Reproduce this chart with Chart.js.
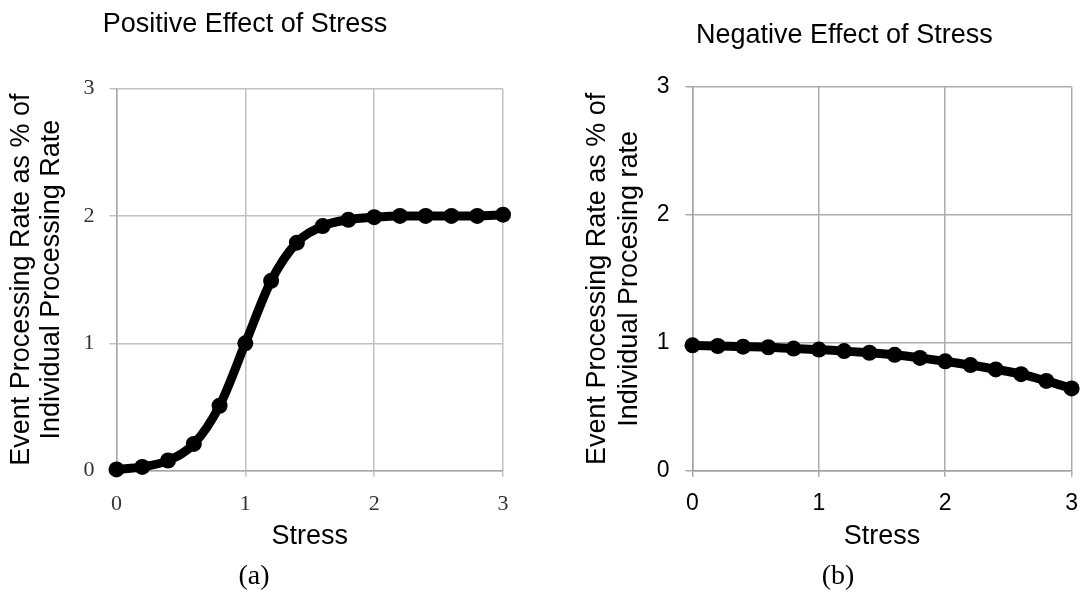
<!DOCTYPE html>
<html>
<head>
<meta charset="utf-8">
<script src="https://cdn.jsdelivr.net/npm/chart.js@4.4.1/dist/chart.umd.min.js"></script>
<style>
  html, body { margin: 0; padding: 0; background: #ffffff; }
  #wrap { position: relative; width: 1091px; height: 592px; overflow: hidden; }
  canvas { position: absolute; top: 0; }
  #cPos { left: 0; }
  #cNeg { left: 560px; }
</style>
</head>
<body>
<div id="wrap">
  <canvas id="cPos" width="560" height="592"></canvas>
  <canvas id="cNeg" width="531" height="592"></canvas>
</div>
<script>
// Stress levels sampled along the x axis
const stress = [0, 0.2, 0.4, 0.6, 0.8, 1.0, 1.2, 1.4, 1.6, 1.8, 2.0, 2.2, 2.4, 2.6, 2.8, 3.0];

// Event processing rate (relative to individual rate) under each stress level
const positiveRate = [0.01, 0.03, 0.08, 0.21, 0.51, 1.00, 1.49, 1.79, 1.92, 1.97, 1.99, 2.00, 2.00, 2.00, 2.00, 2.01];
const negativeRate = [0.98, 0.975, 0.97, 0.965, 0.955, 0.947, 0.935, 0.922, 0.906, 0.882, 0.855, 0.826, 0.792, 0.755, 0.702, 0.643];

// Axis ticks and labels
const xTickValues = [0, 1, 2, 3];
const yTickValues = [0, 1, 2, 3];
const xAxisTitle = 'Stress';
const yTitlePositive = ['Event Processing Rate as % of', 'Individual Processing Rate'];
const yTitleNegative = ['Event Processing Rate as % of', 'Individual Procesing rate'];
const panelTitles = ['Positive Effect of Stress', 'Negative Effect of Stress'];
const panelCaptions = ['(a)', '(b)'];

const SANS = '"Liberation Sans", Arial, sans-serif';
const SERIF = '"Liberation Serif", "Times New Roman", serif';

function makePanel(canvas, p) {
  const W = canvas.width, H = canvas.height;
  const points = stress.map((s, i) => ({ x: s, y: p.values[i] }));

  // draws the panel heading and the sub-figure caption
  const panelText = {
    id: 'panelText',
    afterDraw(chart) {
      const ctx = chart.ctx;
      ctx.save();
      ctx.fillStyle = '#000000';
      ctx.textBaseline = 'alphabetic';
      ctx.font = p.titleFont;
      ctx.textAlign = 'left';
      ctx.fillText(p.title, p.titleX, p.titleY);
      ctx.font = p.captionFont;
      ctx.textAlign = 'center';
      ctx.fillText(p.caption, p.captionX, p.captionY);
      ctx.restore();
    }
  };

  return new Chart(canvas, {
    type: 'line',
    data: {
      datasets: [{
        data: points,
        borderColor: '#000000',
        backgroundColor: '#000000',
        borderWidth: 9,
        pointRadius: 8,
        pointHoverRadius: 8,
        pointBorderWidth: 0,
        pointBackgroundColor: '#000000',
        cubicInterpolationMode: 'monotone',
        clip: false
      }]
    },
    options: {
      responsive: false,
      animation: false,
      events: [],
      layout: {
        padding: { left: 0, top: p.area.top, right: W - p.area.right, bottom: 0 }
      },
      plugins: {
        legend: { display: false },
        tooltip: { enabled: false },
        title: { display: false }
      },
      scales: {
        x: {
          type: 'linear',
          min: 0, max: 3,
          afterFit(scale) { scale.height = H - p.area.bottom; },
          afterBuildTicks(scale) { scale.ticks = xTickValues.map(v => ({ value: v })); },
          grid: { color: p.gridColor, lineWidth: p.gridWidth, tickLength: 6, drawTicks: true },
          border: { color: p.axisColor, width: p.gridWidth },
          ticks: {
            font: p.tickFont, color: p.tickColor, padding: p.xTickPad,
            maxRotation: 0,
            callback: v => String(v)
          },
          title: {
            display: true, text: xAxisTitle, color: '#000000',
            font: { family: SANS, size: 27 },
            padding: { top: 0, bottom: p.xTitlePad }
          }
        },
        y: {
          type: 'linear',
          min: 0, max: 3,
          afterFit(scale) { scale.width = p.area.left; },
          afterBuildTicks(scale) { scale.ticks = yTickValues.map(v => ({ value: v })); },
          grid: { color: p.gridColor, lineWidth: p.gridWidth, tickLength: 7, drawTicks: true },
          border: { color: p.axisColor, width: p.gridWidth },
          ticks: {
            font: p.tickFont, color: p.tickColor, padding: p.yTickPad,
            callback: v => String(v)
          },
          title: {
            display: true, text: p.yTitle, color: '#000000',
            font: { family: SANS, size: 27, lineHeight: p.yTitleLine },
            padding: { top: p.yTitlePad, bottom: 0 }
          }
        }
      }
    },
    plugins: [panelText]
  });
}

makePanel(document.getElementById('cPos'), {
  values: positiveRate,
  area: { left: 116.5, right: 503, top: 88.5, bottom: 470.7 },
  gridColor: '#c2c2c2', axisColor: '#a9a9a9', gridWidth: 1.5,
  tickFont: { family: SERIF, size: 22 }, tickColor: '#333333',
  xTickPad: 14, yTickPad: 15, xTitlePad: 39,
  yTitle: yTitlePositive, yTitleLine: 30 / 27, yTitlePad: 7,
  title: panelTitles[0], titleFont: '27px ' + SANS, titleX: 102.7, titleY: 31.7,
  caption: panelCaptions[0], captionFont: '28px ' + SERIF, captionX: 254, captionY: 584
});

makePanel(document.getElementById('cNeg'), {
  values: negativeRate,
  area: { left: 132.5, right: 521.7, top: 87, bottom: 470.7 },
  gridColor: '#ababab', axisColor: '#a3a3a3', gridWidth: 1.5,
  tickFont: { family: SANS, size: 23 }, tickColor: '#000000',
  xTickPad: 13, yTickPad: 16, xTitlePad: 39,
  yTitle: yTitleNegative, yTitleLine: 32 / 27, yTitlePad: 22,
  title: panelTitles[1], titleFont: '27px ' + SANS, titleX: 136, titleY: 43.3,
  caption: panelCaptions[1], captionFont: '28px ' + SERIF, captionX: 278, captionY: 584
});
</script>
</body>
</html>
